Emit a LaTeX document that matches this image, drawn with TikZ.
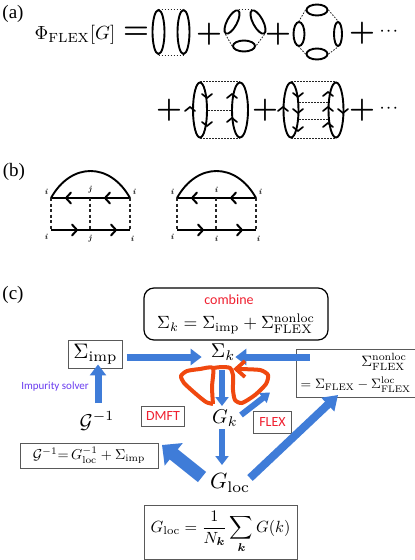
\documentclass[tikz,border=0pt]{standalone}
\usepackage{amsmath,bm}
\usepackage{fontspec}
\newfontfamily\lblfont{Liberation Serif}
\newfontfamily\sansf{Carlito}
\usetikzlibrary{shapes.geometric,arrows.meta}
\definecolor{blk}{HTML}{3F7CD8}
\definecolor{orng}{HTML}{F0480F}
\definecolor{redt}{HTML}{F02030}
\definecolor{purp}{HTML}{6A3CF0}
\newcommand\sz[2]{\scalebox{#1}{#2}}
\tikzset{
  lab/.style={inner sep=0pt,font=\lblfont\fontsize{19}{20}\selectfont},
  txt/.style={inner sep=0pt},
  lp/.style={ellipse,draw=black,line width=1.9pt,inner sep=0pt},
  dot/.style={line width=.8pt,dash pattern=on 1.6pt off 1.4pt,black!85},
  sol/.style={line width=1.9pt,black},
  dsh/.style={line width=1.1pt,dash pattern=on 3pt off 2.5pt,black!85},
  box/.style={draw=black!65,line width=.9pt,inner sep=0pt},
  rbox/.style={draw=black!65,line width=.8pt,inner sep=0pt},
  chev/.pic={\draw[line width=1.7pt,line cap=round,line join=miter] (-4,-5)--(0,0)--(-4,5);},
  chevb/.pic={\draw[line width=2pt,line cap=round,line join=miter] (-5,-5.5)--(0,0)--(-5,5.5);},
  chevo/.pic={\draw[orng,line width=3.8pt,line join=miter] (-9,-8)--(0,0)--(-9,8);},
}
\newcommand\pls[2]{\node[txt] (#1) at #2 {\sz{2.9}{$\bm{+}$}};}
\newcommand\dts[2]{\node[txt] (#1) at #2 {\sz{1.3}{$\bm{\cdots}$}};}
\begin{document}
\begin{tikzpicture}[x=1pt,y=-1pt]
\useasboundingbox (0,0) rectangle (415,560);
\fill[white] (0,0) rectangle (415,560);
% (a)
\node[lab] (la) at (13,14) {(a)};
\node[txt] (phi) at (75,35) {\sz{1.9}{$\Phi_{\mathrm{FLEX}}[G]$}};
\node[txt] (eq) at (136,33) {\sz{2.9}{$\bm{=}$}};
\node[lp,minimum width=12,minimum height=44] (e1) at (158.5,32) {};
\node[lp,minimum width=12,minimum height=44] (e2) at (183.5,32) {};
\draw[dot] (e1.north)--(e2.north);
\draw[dot] (e1.south)--(e2.south);
\pls{p1}{(209,34)}
\node[lp,minimum width=10,minimum height=26,rotate=-28] (t1) at (232,22) {};
\node[lp,minimum width=10,minimum height=26,rotate=28] (t2) at (258,22) {};
\node[lp,minimum width=22,minimum height=11] (t3) at (244,46) {};
\draw[dot] (t1.north)--(t2.north);
\draw[dot] (t1.south)--(t3.west);
\draw[dot] (t2.south)--(t3.east);
\pls{p2}{(278,34)}
\node[lp,minimum width=21,minimum height=11] (q1) at (317,10) {};
\node[lp,minimum width=21,minimum height=11] (q2) at (317,54) {};
\node[lp,minimum width=11,minimum height=24] (q3) at (299,34) {};
\node[lp,minimum width=8,minimum height=24] (q4) at (338,34) {};
\draw[dot] (q1.west)--(q3.north);
\draw[dot] (q1.east)--(q4.north);
\draw[dot] (q2.west)--(q3.south);
\draw[dot] (q2.east)--(q4.south);
\pls{p3}{(362,33)}
\dts{d1}{(390,31)}
% row 2
\pls{p4}{(169,110)}
\node[lp,minimum width=14,minimum height=55] (f1) at (200,110) {};
\node[lp,minimum width=16,minimum height=55] (f2) at (240,110) {};
\draw[dot] (f1.north)--(f2.north);
\draw[dot] (f1.south)--(f2.south);
\draw[dot] (f1.east)--(f2.west);
\pic[rotate=90] at (190,107) {chev};
\pic[rotate=-90] at (207,98) {chev};
\pic[rotate=-90] at (207,126) {chev};
\pic[rotate=90] at (232,94) {chev};
\pic[rotate=90] at (232,118) {chev};
\pls{p5}{(265,110)}
\node[lp,minimum width=15,minimum height=55] (g1) at (291,110) {};
\node[lp,minimum width=15,minimum height=55] (g2) at (336,110) {};
\draw[dot] (g1.north)--(g2.north);
\draw[dot] (g1.south)--(g2.south);
\draw[dot] (g1.east|-0,102)--(g2.west|-0,102);
\draw[dot] (g1.east|-0,119)--(g2.west|-0,119);
\pic[rotate=90] at (283,107) {chev};
\pic[rotate=-90] at (298,97) {chev};
\pic[rotate=-90] at (298,113) {chev};
\pic[rotate=-90] at (298,131) {chev};
\pic[rotate=90] at (328,92) {chev};
\pic[rotate=90] at (328,107) {chev};
\pic[rotate=90] at (328,123) {chev};
\pic[rotate=-90] at (343,113) {chev};
\pls{p6}{(362,110)}
\dts{d2}{(390,108)}
% (b)
\node[lab] (lb) at (14,172) {(b)};
\foreach \n/\xa/\xb/\xc/\ja/\jb in {A/51/90/130/j/j,B/177/216/256/i/i}{
  \coordinate (\n1) at (\xa,198);
  \coordinate (\n2) at (\xb,198);
  \coordinate (\n3) at (\xc,198);
  \coordinate (\n4) at (\xa,230);
  \coordinate (\n5) at (\xb,230);
  \coordinate (\n6) at (\xc,230);
  \draw[sol] (\n1)--(\n3);
  \draw[sol] (\n4)--(\n6);
  \draw[sol] (\n1) .. controls ([xshift=20,yshift=36]\n1) and ([xshift=-20,yshift=36]\n3) .. (\n3);
  \draw[dsh] (\n1)--(\n4);
  \draw[dsh] (\n2)--(\n5);
  \draw[dsh] (\n3)--(\n6);
  \pic[rotate=180] at ([xshift=15]\n1) {chevb};
  \pic[rotate=180] at ([xshift=15]\n2) {chevb};
  \pic at ([xshift=26]\n4) {chevb};
  \pic at ([xshift=26]\n5) {chevb};
  \node[txt,font=\footnotesize\itshape\bfseries] at ([xshift=-5,yshift=6]\n1) {i};
  \node[txt,font=\footnotesize\itshape\bfseries] at ([yshift=8]\n2) {\ja};
  \node[txt,font=\footnotesize\itshape\bfseries] at ([xshift=4,yshift=6]\n3) {i};
  \node[txt,font=\footnotesize\itshape\bfseries] at ([xshift=-5,yshift=-7]\n4) {i};
  \node[txt,font=\footnotesize\itshape\bfseries] at ([yshift=-9]\n5) {\jb};
  \node[txt,font=\footnotesize\itshape\bfseries] at ([xshift=2,yshift=-9]\n6) {i};
}
% (c)
\node[lab] (lc) at (13,295) {(c)};
\node[draw=black,line width=1.2pt,rounded corners=10pt,minimum width=184,minimum height=52,inner sep=0pt] (top) at (236,314) {};
\node[txt,font=\sansf\fontsize{14}{15}\selectfont,text=redt] (comb) at (229,300) {combine};
\node[txt] (fsig) at (236,323.5) {\sz{1.77}{$\Sigma_{k}=\Sigma_{\mathrm{imp}}+\Sigma^{\mathrm{nonloc}}_{\mathrm{FLEX}}$}};
\node[box,minimum width=54,minimum height=28] (simp) at (95.5,354) {\sz{2.1}{$\Sigma_{\mathrm{imp}}$}};
\node[txt] (sk) at (223,352) {\sz{2}{$\Sigma_k$}};
\node[box,minimum width=119,minimum height=48] (srt) at (355.5,373) {};
\node[txt,anchor=east] (srt1) at (407,362) {\sz{1.5}{$\Sigma^{\mathrm{nonloc}}_{\mathrm{FLEX}}$}};
\node[txt,anchor=east] (srt2) at (411,385) {\sz{1.36}{$=\Sigma_{\mathrm{FLEX}}-\Sigma^{\mathrm{loc}}_{\mathrm{FLEX}}$}};
\node[txt,font=\sansf\fontsize{11}{12}\selectfont,text=purp] (imps) at (55,387) {Impurity solver};
\node[txt] (ginv) at (97,421) {\sz{2}{$\mathcal{G}^{-1}$}};
\node[rbox,minimum width=43,minimum height=20,font=\sansf\fontsize{14}{15}\selectfont,text=redt] (dmft) at (163,416) {DMFT};
\node[rbox,minimum width=38,minimum height=22,font=\sansf\fontsize{14}{15}\selectfont,text=redt] (flex) at (272.5,422) {FLEX};
\node[txt] (gk) at (225,418) {\sz{2}{$G_k$}};
\node[txt] (gloc) at (230,483) {\sz{2.2}{$G_{\mathrm{loc}}$}};
\node[box,minimum width=138,minimum height=25] (gdef) at (89,455.5) {\sz{1.43}{$\mathcal{G}^{-1}{=}\,G_{\mathrm{loc}}^{-1}+\Sigma_{\mathrm{imp}}$}};
\node[box,minimum width=153,minimum height=54] (gsum) at (220.5,532) {\sz{1.62}{$G_{\mathrm{loc}}=\dfrac{1}{N_{\bm{k}}}\displaystyle\sum_{\bm{k}}G(k)$}};
% block arrows
\tikzset{
 ar1/.style={blk,line width=7pt,-{Triangle[length=11pt,width=16pt]}},
 ar2/.style={blk,line width=5.5pt,-{Triangle[length=9pt,width=13pt]}},
 ar3/.style={blk,line width=13pt,-{Triangle[length=15pt,width=28pt]}},
 ar4/.style={blk,line width=8pt,-{Triangle[length=14pt,width=18pt]}},
}
\draw[ar1,shorten <=4pt,shorten >=9pt] (simp.east|-0,357) -- (sk.west|-0,357);
\draw[ar1,shorten <=-14pt,shorten >=0pt] (srt.west|-0,357) -- (sk.east|-0,357);
\draw[ar1] (98,403) -- ([xshift=2.5,yshift=4]simp.south);
\draw[ar2] (222,370) -- (222,406);
\draw[ar2] (222,429) -- (222,465);
\draw[ar3] (202,477) -- (162,445);
\draw[ar4] (250,478) -- (338,395);
\draw[blk,line width=6pt,-{Triangle[length=9pt,width=12pt]}] (241,415) -- (270,392.5);
% loop
\draw[orng,line width=4pt,line join=round] plot[smooth,tension=.4] coordinates {(213,404) (206,402) (196,394) (184,383) (181,376) (187,371) (200,369) (213,368) (212,387) (213,404)};
\draw[orng,line width=4pt,line join=round] plot[smooth,tension=.4] coordinates {(213,368) (222,367) (230,368) (233,375) (233,390) (235,400) (242,403) (255,395) (266,384) (268,375) (260,370) (238,369)};
\pic[rotate=180] at (236,369) {chevo};
\end{tikzpicture}
\end{document}
